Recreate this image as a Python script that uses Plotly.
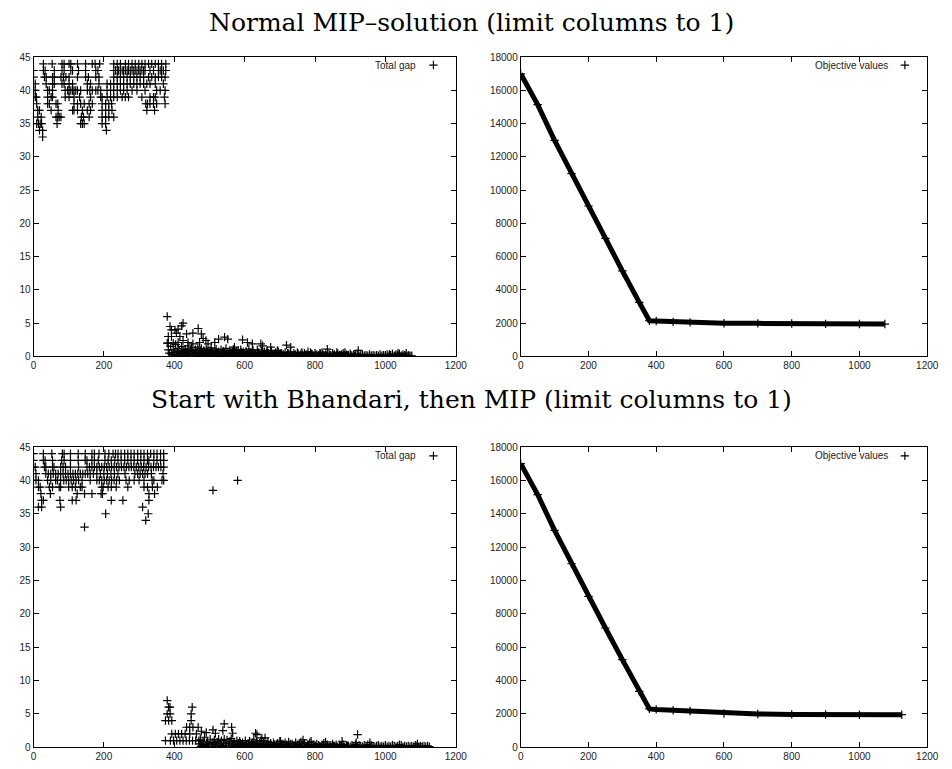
import plotly.graph_objects as go

# ---------------- data ----------------
title_top = "Normal MIP–solution (limit columns to 1)"
title_bottom = "Start with Bhandari, then MIP (limit columns to 1)"

# Normal MIP: total gap, first phase (x positions per integer gap value)
gap1_rows = {
    44: [28, 53, 81, 87, 101, 106, 125, 148, 167, 175, 188, 228, 238, 247, 261, 270, 280, 289, 299, 308, 317, 327, 336, 346, 355, 364, 376],
    43: [0, 28, 33, 59, 81, 87, 106, 111, 128, 148, 177, 183, 228, 233, 238, 242, 247, 252, 256, 261, 266, 270, 275, 280, 285, 289, 294, 299, 303, 308, 313, 317, 331, 341, 355, 360, 364, 369, 376],
    42: [0, 31, 36, 54, 59, 78, 85, 92, 101, 125, 148, 156, 177, 186, 228, 238, 247, 256, 266, 275, 285, 294, 303, 313, 327, 336, 346, 355, 364, 374],
    41: [5, 36, 54, 59, 81, 87, 101, 111, 153, 162, 186, 209, 219, 228, 238, 247, 256, 266, 275, 285, 294, 303, 313, 322, 331, 346, 369],
    40: [0, 5, 40, 45, 54, 90, 97, 101, 106, 111, 115, 120, 125, 134, 153, 160, 167, 177, 183, 191, 209, 219, 228, 238, 247, 256, 266, 280, 294, 317, 350, 360, 374],
    39: [5, 8, 40, 50, 54, 90, 101, 115, 131, 162, 191, 195, 209, 219, 228, 238, 252, 261, 270, 308, 331, 341, 346, 372],
    38: [9, 40, 45, 64, 69, 115, 125, 134, 144, 158, 167, 195, 205, 214, 222, 319, 324, 331, 341, 350, 374],
    37: [12, 17, 50, 70, 111, 115, 125, 139, 153, 162, 195, 205, 214, 223, 322, 344],
    36: [12, 22, 64, 69, 73, 78, 136, 142, 158, 195, 205, 214, 228],
    35: [9, 14, 19, 23, 67, 134, 139, 144, 195, 205],
    34: [17, 26, 207],
    33: [26],
}
# Normal MIP: total gap, second phase (x, gap)
gap1_low = [
    (380, 6.0), (388, 4.5), (392, 4.0), (402, 4.0), (411, 4.1), (421, 4.6), (425, 5.0), (406, 3.5),
    (383, 3.0), (392, 3.0), (416, 3.0), (435, 3.4), (453, 3.5), (468, 4.2), (477, 3.4), (482, 2.7),
    (490, 2.4), (383, 2.0), (397, 2.0), (411, 2.1), (425, 2.4), (439, 2.1), (453, 1.9), (472, 2.1),
    (496, 1.9), (515, 2.1), (526, 2.6), (543, 2.9), (552, 2.6), (571, 1.4), (594, 2.5), (608, 2.1),
    (622, 1.9), (646, 1.9), (651, 1.6), (674, 1.4), (693, 0.9), (719, 1.7), (731, 1.4), (763, 0.6),
    (787, 0.6), (814, 0.5), (835, 1.1), (862, 0.6), (885, 0.6), (923, 0.9), (1012, 0.3), (1036, 0.5), (1059, 0.5),
    (380, 2.0), (383, 1.0), (386, 0.5), (390, 1.5), (393, 0.3), (397, 1.0), (400, 0.6), (404, 1.8),
    (407, 0.2), (411, 1.2), (414, 0.8), (418, 0.4), (421, 1.5), (425, 0.9), (428, 0.2), (432, 1.1),
    (435, 0.6), (439, 1.6), (442, 0.3), (446, 0.9), (449, 1.3), (453, 0.5), (456, 0.1), (460, 1.0),
    (463, 0.6), (467, 1.4), (470, 0.3), (474, 0.8), (477, 1.2), (481, 0.4), (484, 0.9), (488, 0.2),
    (491, 1.1), (495, 0.6), (498, 0.3), (502, 0.9), (505, 1.3), (509, 0.5), (512, 0.2), (516, 0.8),
    (519, 1.1), (523, 0.4), (526, 0.7), (530, 0.2), (533, 1.0), (537, 0.5), (540, 0.8), (544, 0.3),
    (547, 1.2), (551, 0.6), (554, 0.2), (558, 0.9), (561, 0.4), (565, 0.7), (568, 1.1), (572, 0.3),
    (575, 0.6), (579, 0.2), (582, 0.9), (586, 0.5), (589, 1.0), (593, 0.3), (596, 0.7), (600, 0.2),
    (604, 0.8), (608, 0.4), (612, 1.1), (616, 0.6), (620, 0.2), (624, 0.9), (628, 0.5), (632, 0.3),
    (636, 1.0), (640, 0.6), (644, 0.2), (648, 0.8), (652, 0.4), (656, 0.7), (660, 0.2), (664, 0.9),
    (668, 0.5), (672, 0.3), (676, 0.8), (680, 0.4), (684, 0.1), (688, 0.6), (692, 0.3), (696, 0.7),
    (700, 0.2), (705, 0.5), (710, 0.3), (715, 0.6), (720, 0.2), (725, 0.4), (730, 0.7), (735, 0.2),
    (740, 0.5), (745, 0.3), (750, 0.6), (755, 0.1), (760, 0.4), (765, 0.2), (770, 0.5), (775, 0.3),
    (780, 0.7), (785, 0.2), (790, 0.4), (795, 0.1), (800, 0.5), (805, 0.3), (810, 0.2), (815, 0.4),
    (820, 0.6), (825, 0.2), (830, 0.3), (835, 0.1), (840, 0.4), (845, 0.2), (850, 0.5), (855, 0.3),
    (860, 0.1), (865, 0.4), (870, 0.2), (875, 0.3), (880, 0.5), (885, 0.1), (890, 0.3), (895, 0.2),
    (900, 0.4), (905, 0.1), (910, 0.3), (915, 0.2), (920, 0.4), (925, 0.1), (930, 0.2), (935, 0.3),
    (940, 0.1), (945, 0.2), (950, 0.1), (955, 0.3), (960, 0.1), (965, 0.2), (970, 0.1), (975, 0.2),
    (980, 0.1), (985, 0.3), (990, 0.1), (995, 0.2), (1000, 0.1), (1005, 0.3), (1010, 0.1), (1015, 0.2),
    (1020, 0.4), (1025, 0.1), (1030, 0.3), (1035, 0.2), (1040, 0.4), (1045, 0.1), (1050, 0.3), (1055, 0.2),
    (1060, 0.1), (1065, 0.2), (1070, 0.1), (1075, 0.1),
    (395, 0.1), (402, 0.3), (409, 0.6), (416, 0.1), (423, 0.5), (430, 0.7), (437, 0.2), (444, 0.5),
    (451, 0.8), (458, 0.4), (465, 0.1), (472, 0.6), (479, 0.2), (486, 0.7), (493, 0.1), (500, 0.5),
    (507, 0.8), (514, 0.1), (521, 0.6), (528, 0.4), (535, 0.1), (542, 0.6), (549, 0.2), (556, 0.5),
    (563, 0.1), (570, 0.5), (577, 0.8), (584, 0.1), (591, 0.6), (598, 0.4), (606, 0.1), (614, 0.3),
    (622, 0.6), (630, 0.1), (638, 0.4), (646, 0.1), (654, 0.3), (662, 0.6), (670, 0.1), (678, 0.2),
    (686, 0.4), (694, 0.1), (702, 0.4), (712, 0.1), (722, 0.5), (732, 0.1), (742, 0.2), (752, 0.4),
    (762, 0.1), (772, 0.2), (782, 0.1), (792, 0.3), (802, 0.1), (812, 0.1), (822, 0.3), (832, 0.1),
    (842, 0.2), (852, 0.1), (862, 0.2), (872, 0.1), (882, 0.2), (892, 0.1), (902, 0.2), (912, 0.1),
]

# Bhandari then MIP: total gap, first phase
gap2_rows = {
    44: [0, 28, 52, 82, 87, 105, 127, 147, 166, 173, 186, 203, 214, 226, 233, 240, 249, 259, 268, 277, 286, 296, 305, 314, 324, 333, 342, 351, 361, 370],
    43: [0, 28, 33, 54, 80, 87, 105, 127, 147, 152, 166, 173, 184, 203, 212, 221, 231, 240, 249, 259, 268, 277, 286, 296, 305, 314, 324, 328, 342, 351, 361, 370],
    42: [0, 5, 31, 35, 54, 58, 77, 84, 91, 105, 128, 152, 159, 166, 173, 180, 187, 194, 201, 208, 215, 222, 229, 236, 243, 250, 257, 264, 271, 278, 285, 292, 299, 306, 313, 320, 327, 334, 341, 348, 355, 362, 370],
    41: [7, 35, 42, 49, 56, 63, 70, 77, 84, 91, 98, 105, 112, 119, 126, 133, 140, 147, 154, 161, 170, 180, 190, 200, 210, 220, 230, 240, 260, 288, 296, 303, 310, 317, 324, 335, 368],
    40: [0, 7, 14, 40, 49, 63, 68, 77, 86, 93, 100, 107, 114, 121, 128, 138, 161, 180, 187, 194, 201, 208, 215, 222, 229, 236, 244, 263, 272, 286, 300, 314, 337, 342, 365, 370, 580],
    39: [14, 19, 45, 54, 73, 77, 100, 110, 119, 133, 138, 194, 198, 212, 221, 235, 268, 314, 324, 338, 352],
    38: [21, 48, 124, 145, 166, 192, 196, 328, 344],
    37: [23, 28, 75, 110, 121, 221, 254, 328],
    36: [14, 23, 77, 310],
    35: [205, 326],
    34: [319],
    33: [145],
}
gap2_low = [
    (510, 38.5),
    (380, 7.0), (384, 6.0), (388, 6.0), (380, 5.0), (388, 5.0), (375, 4.0), (384, 4.0), (393, 4.0), (375, 1.0),
    (451, 6.0), (448, 5.0), (448, 4.0), (435, 3.0), (444, 3.0), (453, 3.0), (468, 3.0),
    (393, 2.0), (403, 2.0), (412, 2.0), (421, 2.0), (431, 2.0), (444, 2.0), (463, 2.0), (477, 2.4),
    (389, 1.0), (398, 1.0), (407, 1.0), (416, 1.0), (425, 1.0), (434, 1.0), (443, 1.0), (452, 1.0), (461, 1.0), (470, 1.0),
    (491, 2.2), (510, 2.6), (517, 2.1), (542, 3.5), (563, 3.0), (538, 2.5), (566, 2.1), (631, 2.1), (635, 1.9),
    (649, 1.4), (658, 1.4), (700, 0.9), (766, 1.1), (789, 0.9), (830, 0.8), (877, 0.9), (921, 1.9), (917, 0.7),
    (956, 0.7), (1040, 0.4), (1091, 0.5),
    (470, 0.5), (474, 1.2), (478, 0.3), (482, 0.8), (486, 1.5), (490, 0.2), (494, 0.9), (498, 0.4),
    (502, 1.2), (506, 0.1), (510, 0.7), (514, 1.1), (518, 0.3), (522, 0.8), (526, 1.2), (530, 0.5),
    (534, 1.0), (538, 0.2), (542, 1.2), (546, 0.6), (550, 1.1), (554, 0.3), (558, 0.9), (562, 1.3),
    (566, 0.5), (570, 0.8), (574, 0.2), (578, 1.0), (582, 0.6), (586, 0.9), (590, 0.3), (594, 0.7),
    (598, 0.4), (602, 1.0), (606, 0.2), (610, 0.6), (614, 0.9), (618, 0.3), (622, 0.7), (626, 1.2),
    (630, 0.5), (634, 0.9), (638, 0.2), (642, 0.6), (646, 1.0), (650, 0.4), (654, 0.8), (658, 0.2),
    (662, 0.5), (666, 0.9), (670, 0.3), (674, 0.6), (678, 0.2), (682, 0.7), (686, 0.4), (690, 0.1),
    (694, 0.6), (698, 0.3), (702, 0.9), (706, 0.5), (710, 0.2), (715, 0.7), (720, 0.4), (725, 0.8),
    (730, 0.2), (735, 0.5), (740, 0.3), (745, 0.7), (750, 0.2), (755, 0.5), (760, 0.8), (765, 0.3),
    (770, 0.6), (775, 0.2), (780, 0.4), (785, 0.7), (790, 0.1), (795, 0.4), (800, 0.2), (805, 0.5),
    (810, 0.3), (815, 0.1), (820, 0.4), (825, 0.6), (830, 0.2), (835, 0.4), (840, 0.1), (845, 0.3),
    (850, 0.5), (855, 0.2), (860, 0.4), (865, 0.1), (870, 0.3), (875, 0.2), (880, 0.4), (885, 0.1),
    (890, 0.3), (895, 0.2), (900, 0.1), (905, 0.3), (910, 0.2), (915, 0.4), (920, 0.1), (925, 0.3),
    (930, 0.2), (935, 0.1), (940, 0.3), (945, 0.2), (950, 0.4), (955, 0.1), (960, 0.3), (965, 0.2),
    (970, 0.1), (975, 0.2), (980, 0.3), (985, 0.1), (990, 0.2), (995, 0.1), (1000, 0.3), (1005, 0.1),
    (1010, 0.2), (1015, 0.1), (1020, 0.3), (1025, 0.2), (1030, 0.1), (1035, 0.2), (1040, 0.1), (1045, 0.3),
    (1050, 0.1), (1055, 0.2), (1060, 0.1), (1065, 0.2), (1070, 0.1), (1075, 0.2), (1080, 0.1), (1085, 0.3),
    (1090, 0.2), (1095, 0.1), (1100, 0.2), (1105, 0.1), (1110, 0.2), (1115, 0.1), (1120, 0.2), (1125, 0.1),
    (476, 0.1), (484, 0.4), (492, 0.6), (500, 0.1), (508, 0.4), (516, 0.6), (524, 0.2), (532, 0.1),
    (540, 0.5), (548, 0.2), (556, 0.6), (564, 0.1), (572, 0.4), (580, 0.2), (588, 0.6), (596, 0.1),
    (604, 0.4), (612, 0.2), (620, 0.5), (628, 0.1), (636, 0.4), (644, 0.2), (652, 0.5), (660, 0.1),
    (668, 0.4), (676, 0.1), (684, 0.3), (692, 0.5), (700, 0.1), (710, 0.4), (720, 0.1), (730, 0.5),
    (740, 0.1), (750, 0.4), (760, 0.1), (770, 0.3), (780, 0.1), (790, 0.3), (800, 0.1), (812, 0.2),
    (822, 0.1), (832, 0.3), (842, 0.1), (852, 0.2), (862, 0.1), (872, 0.2), (882, 0.1), (892, 0.2),
]

# Objective values
obj1_x = [0, 50, 100, 150, 200, 250, 300, 350, 380, 400, 450, 500, 600, 700, 800, 900, 1000, 1075]
obj1_y = [17000, 15150, 13000, 11000, 9050, 7100, 5150, 3250, 2150, 2130, 2080, 2050, 2000, 1990, 1980, 1960, 1950, 1950]
obj2_x = [0, 50, 100, 150, 200, 250, 300, 350, 380, 400, 450, 500, 600, 700, 800, 900, 1000, 1125]
obj2_y = [17000, 15150, 13000, 11000, 9050, 7150, 5250, 3350, 2300, 2270, 2220, 2170, 2020, 1990, 1970, 1960, 1950, 1950]

legend_gap = "Total gap"
legend_obj = "Objective values"

# ---------------- figure ----------------
fig = go.Figure()

MK = dict(symbol="cross-thin", size=6, color="black", line=dict(width=1.2, color="black"))

W, H = 952, 769


def flatten(rows, low):
    xs, ys = [], []
    for g, xl in rows.items():
        for xv in xl:
            xs.append(xv)
            ys.append(g)
    for xv, yv in low:
        xs.append(xv)
        ys.append(yv)
    return xs, ys


g1x, g1y = flatten(gap1_rows, gap1_low)
g2x, g2y = flatten(gap2_rows, gap2_low)

fig.add_trace(go.Scatter(x=g1x, y=g1y, mode="markers", marker=MK, name="",
                         xaxis="x", yaxis="y", legend="legend"))
fig.add_trace(go.Scatter(x=obj1_x, y=obj1_y, mode="lines", line=dict(color="black", width=5),
                         xaxis="x2", yaxis="y2", showlegend=False))
fig.add_trace(go.Scatter(x=obj1_x, y=obj1_y, mode="markers", marker=MK, name="",
                         xaxis="x2", yaxis="y2", legend="legend2"))
fig.add_trace(go.Scatter(x=g2x, y=g2y, mode="markers", marker=MK, name="",
                         xaxis="x3", yaxis="y3", legend="legend3"))
fig.add_trace(go.Scatter(x=obj2_x, y=obj2_y, mode="lines", line=dict(color="black", width=5),
                         xaxis="x4", yaxis="y4", showlegend=False))
fig.add_trace(go.Scatter(x=obj2_x, y=obj2_y, mode="markers", marker=MK, name="",
                         xaxis="x4", yaxis="y4", legend="legend4"))

xl_dom = [31 / W, 460 / W]
xr_dom = [526 / W, 939 / W]
yt_dom = [1 - 356 / H, 1 - 52 / H]
yb_dom = [1 - 753 / H, 1 - 448 / H]

SANS = "Liberation Sans, Arial, sans-serif"
tickfont = dict(family=SANS, size=10, color="#222")


def xax(dom, anchor):
    return dict(domain=dom, anchor=anchor, range=[0, 1200], dtick=200, tick0=0,
                showline=True, linecolor="black", linewidth=1, mirror="ticks",
                ticks="inside", ticklen=5, tickcolor="black", showgrid=False,
                zeroline=False, tickfont=tickfont, tickformat="d")


def yax(dom, anchor, rng, dt):
    return dict(domain=dom, anchor=anchor, range=rng, dtick=dt, tick0=0,
                showline=True, linecolor="black", linewidth=1, mirror="ticks",
                ticks="inside", ticklen=5, tickcolor="black", showgrid=False,
                zeroline=False, tickfont=tickfont, tickformat="d")


def leg(xsym, ypx):
    return dict(x=(xsym - 20) / W, y=1 - ypx / H, xanchor="left", yanchor="middle",
                bgcolor="rgba(0,0,0,0)", borderwidth=0, itemwidth=30,
                font=dict(family=SANS, size=10), tracegroupgap=0)


def label(text, xr, ypx):
    return dict(text=text, x=xr / W, y=1 - ypx / H, xref="paper", yref="paper",
                xanchor="right", yanchor="middle", showarrow=False,
                font=dict(family=SANS, size=10, color="#222"))


def title(text, ypx):
    return dict(text=text, x=0.5, y=1 - ypx / H, xref="paper", yref="paper",
                xanchor="center", yanchor="middle", showarrow=False,
                font=dict(family="DejaVu Serif, serif", size=25, color="black"))


fig.update_layout(
    width=W, height=H,
    margin=dict(l=0, r=0, t=0, b=0),
    paper_bgcolor="white", plot_bgcolor="white",
    xaxis=xax(xl_dom, "y"), yaxis=yax(yt_dom, "x", [0, 45], 5),
    xaxis2=xax(xr_dom, "y2"), yaxis2=yax(yt_dom, "x2", [0, 18000], 2000),
    xaxis3=xax(xl_dom, "y3"), yaxis3=yax(yb_dom, "x3", [0, 45], 5),
    xaxis4=xax(xr_dom, "y4"), yaxis4=yax(yb_dom, "x4", [0, 18000], 2000),
    legend=leg(437, 60),
    legend2=leg(916, 60),
    legend3=leg(437, 457),
    legend4=leg(916, 457),
    annotations=[
        title(title_top, 17),
        title(title_bottom, 400),
        label(legend_gap, 422, 60),
        label(legend_obj, 901, 60),
        label(legend_gap, 422, 457),
        label(legend_obj, 901, 457),
    ],
)

fig.write_html("out.html")
